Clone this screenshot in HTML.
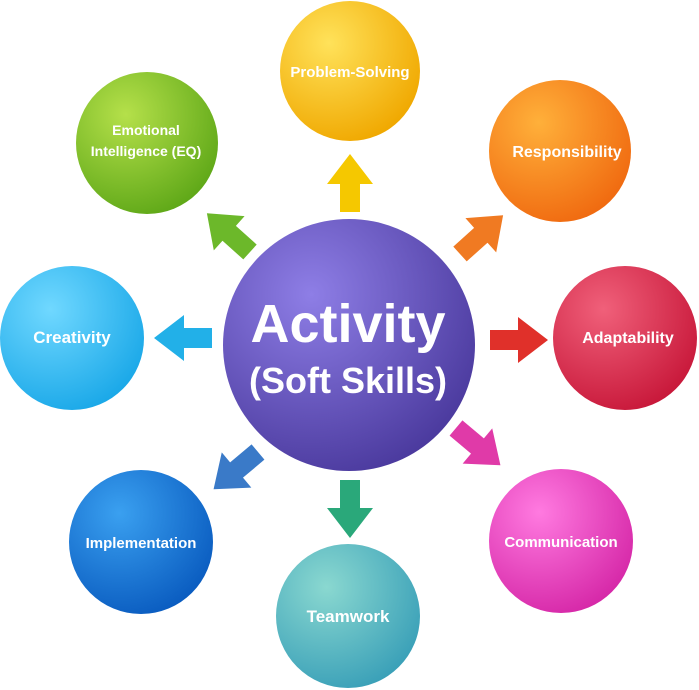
<!DOCTYPE html>
<html><head><style>
html,body{margin:0;padding:0;background:#fff;}
svg{display:block;}
text{font-family:"Liberation Sans",sans-serif;font-weight:bold;fill:#fff;text-anchor:middle;}
</style></head><body>
<svg width="699" height="690" viewBox="0 0 699 690">
<defs>
<radialGradient id="gc" cx="35%" cy="30%" r="75%"><stop offset="0" stop-color="#8e7ee6"/><stop offset="1" stop-color="#4b3a9e"/></radialGradient>
<radialGradient id="gy" cx="35%" cy="30%" r="75%"><stop offset="0" stop-color="#ffe25a"/><stop offset="1" stop-color="#f0a800"/></radialGradient>
<radialGradient id="gg" cx="35%" cy="30%" r="75%"><stop offset="0" stop-color="#b5e04a"/><stop offset="1" stop-color="#5fa818"/></radialGradient>
<radialGradient id="go" cx="35%" cy="30%" r="75%"><stop offset="0" stop-color="#ffb03a"/><stop offset="1" stop-color="#f06a10"/></radialGradient>
<radialGradient id="gr" cx="35%" cy="30%" r="75%"><stop offset="0" stop-color="#f0607a"/><stop offset="1" stop-color="#c8183a"/></radialGradient>
<radialGradient id="gcy" cx="35%" cy="30%" r="75%"><stop offset="0" stop-color="#70d8ff"/><stop offset="1" stop-color="#1aa8e8"/></radialGradient>
<radialGradient id="gb" cx="35%" cy="30%" r="75%"><stop offset="0" stop-color="#3aa0f0"/><stop offset="1" stop-color="#0a5cc0"/></radialGradient>
<radialGradient id="gt" cx="35%" cy="30%" r="75%"><stop offset="0" stop-color="#8ad8d0"/><stop offset="1" stop-color="#3aa0b8"/></radialGradient>
<radialGradient id="gm" cx="35%" cy="30%" r="75%"><stop offset="0" stop-color="#ff7ae0"/><stop offset="1" stop-color="#d628a8"/></radialGradient>
<g id="arr"><polygon points="-10,0 10,0 10,-28 23,-28 0,-58 -23,-28 -10,-28" /></g>
</defs>
<g transform="translate(350,212)" fill="#f5c800"><use href="#arr"/></g>
<g transform="translate(250,252) rotate(-48)" fill="#6cb82a"><use href="#arr"/></g>
<g transform="translate(460,254) rotate(48)" fill="#f07a22"><use href="#arr"/></g>
<g transform="translate(490,340) rotate(90)" fill="#e0302a"><use href="#arr"/></g>
<g transform="translate(212,338) rotate(-90)" fill="#22b0e8"><use href="#arr"/></g>
<g transform="translate(258,452) rotate(-130)" fill="#3a7ac8"><use href="#arr"/></g>
<g transform="translate(350,480) rotate(180)" fill="#2aa87a"><use href="#arr"/></g>
<g transform="translate(456,428) rotate(130)" fill="#e03aa8"><use href="#arr"/></g>
<circle cx="349" cy="345" r="126" fill="url(#gc)"/>
<circle cx="350" cy="71" r="70" fill="url(#gy)"/>
<circle cx="147" cy="143" r="71" fill="url(#gg)"/>
<circle cx="560" cy="151" r="71" fill="url(#go)"/>
<circle cx="625" cy="338" r="72" fill="url(#gr)"/>
<circle cx="72" cy="338" r="72" fill="url(#gcy)"/>
<circle cx="141" cy="542" r="72" fill="url(#gb)"/>
<circle cx="348" cy="616" r="72" fill="url(#gt)"/>
<circle cx="561" cy="541" r="72" fill="url(#gm)"/>
<text x="348" y="342" font-size="54">Activity</text>
<text x="348" y="393" font-size="36">(Soft Skills)</text>
<text x="350" y="77" font-size="15">Problem-Solving</text>
<text x="146" y="135" font-size="14">Emotional</text>
<text x="146" y="156" font-size="14">Intelligence (EQ)</text>
<text x="567" y="157" font-size="16">Responsibility</text>
<text x="628" y="343" font-size="16">Adaptability</text>
<text x="72" y="343" font-size="17">Creativity</text>
<text x="141" y="548" font-size="15">Implementation</text>
<text x="348" y="622" font-size="17">Teamwork</text>
<text x="561" y="547" font-size="15">Communication</text>
</svg>
</body></html>
